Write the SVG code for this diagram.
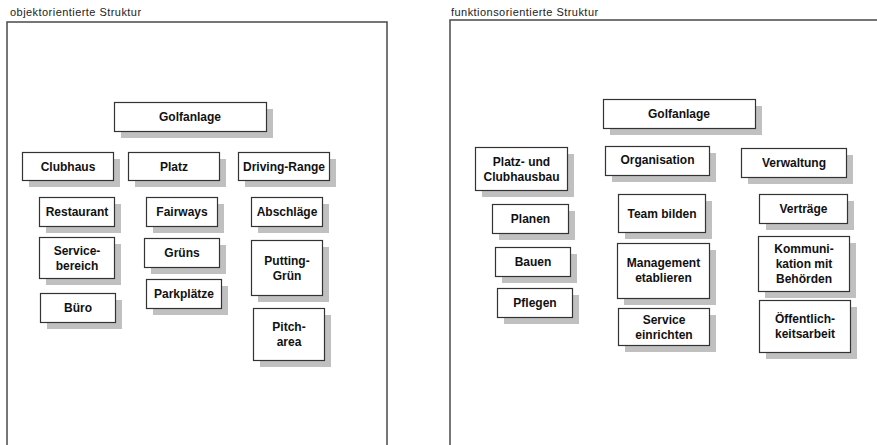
<svg xmlns="http://www.w3.org/2000/svg" width="877" height="445" viewBox="0 0 877 445">
  <style>
    .frame { fill: none; stroke: #4a4a4a; stroke-width: 1.5; }
    .title { font-family: "Liberation Sans", Arial, sans-serif; font-size: 11px; letter-spacing: 0.45px; fill: #222; }
    .sh { fill: #c0c0c0; }
    .bx { fill: #ffffff; stroke: #333333; stroke-width: 1.2; }
    .t { font-family: "Liberation Sans", Arial, sans-serif; font-size: 12px; font-weight: bold; fill: #111; text-anchor: middle; }
  </style>
  <rect width="877" height="445" fill="#ffffff"/>

  <!-- panel frames and headings -->
  <g id="panel-left">
    <text class="title" x="10" y="16">objektorientierte Struktur</text>
    <path class="frame" d="M7,446 V22 H387 V446"/>
  </g>
  <g id="panel-right">
    <text class="title" x="451" y="16">funktionsorientierte Struktur</text>
    <path class="frame" d="M450,446 V20 H878"/>
  </g>

  <!-- object-oriented structure -->
  <g id="o-golfanlage" transform="translate(114,102)">
    <rect class="sh" x="7" y="7" width="152" height="29"/>
    <rect class="bx" x="0.5" y="0.5" width="152" height="29"/>
    <text class="t" x="76" y="19">Golfanlage</text>
  </g>
  <g id="o-clubhaus" transform="translate(22,152)">
    <rect class="sh" x="7" y="7" width="91" height="28"/>
    <rect class="bx" x="0.5" y="0.5" width="91" height="28"/>
    <text class="t" x="46" y="18.5">Clubhaus</text>
  </g>
  <g id="o-platz" transform="translate(128,152)">
    <rect class="sh" x="7" y="7" width="91" height="28"/>
    <rect class="bx" x="0.5" y="0.5" width="91" height="28"/>
    <text class="t" x="46" y="18.5">Platz</text>
  </g>
  <g id="o-driving-range" transform="translate(238,152)">
    <rect class="sh" x="7" y="7" width="91" height="28"/>
    <rect class="bx" x="0.5" y="0.5" width="91" height="28"/>
    <text class="t" x="46" y="18.5">Driving-Range</text>
  </g>
  <g id="o-restaurant" transform="translate(39,197)">
    <rect class="sh" x="7" y="7" width="75" height="29"/>
    <rect class="bx" x="0.5" y="0.5" width="75" height="29"/>
    <text class="t" x="38" y="19">Restaurant</text>
  </g>
  <g id="o-servicebereich" transform="translate(39,237)">
    <rect class="sh" x="7" y="7" width="75" height="41"/>
    <rect class="bx" x="0.5" y="0.5" width="75" height="41"/>
    <text class="t" x="38" y="17.5">Service-</text>
    <text class="t" x="38" y="32.5">bereich</text>
  </g>
  <g id="o-buero" transform="translate(40,293)">
    <rect class="sh" x="7" y="7" width="75" height="29"/>
    <rect class="bx" x="0.5" y="0.5" width="75" height="29"/>
    <text class="t" x="38" y="19">Büro</text>
  </g>
  <g id="o-fairways" transform="translate(146,197)">
    <rect class="sh" x="7" y="7" width="71" height="29"/>
    <rect class="bx" x="0.5" y="0.5" width="71" height="29"/>
    <text class="t" x="36" y="19">Fairways</text>
  </g>
  <g id="o-gruens" transform="translate(144,238)">
    <rect class="sh" x="7" y="7" width="75" height="29"/>
    <rect class="bx" x="0.5" y="0.5" width="75" height="29"/>
    <text class="t" x="38" y="19">Grüns</text>
  </g>
  <g id="o-parkplaetze" transform="translate(146,279)">
    <rect class="sh" x="7" y="7" width="75" height="29"/>
    <rect class="bx" x="0.5" y="0.5" width="75" height="29"/>
    <text class="t" x="38" y="19">Parkplätze</text>
  </g>
  <g id="o-abschlaege" transform="translate(251,197)">
    <rect class="sh" x="7" y="7" width="71" height="29"/>
    <rect class="bx" x="0.5" y="0.5" width="71" height="29"/>
    <text class="t" x="36" y="19">Abschläge</text>
  </g>
  <g id="o-putting-gruen" transform="translate(251,240)">
    <rect class="sh" x="7" y="7" width="71" height="55"/>
    <rect class="bx" x="0.5" y="0.5" width="71" height="55"/>
    <text class="t" x="36" y="24.5">Putting-</text>
    <text class="t" x="36" y="39.5">Grün</text>
  </g>
  <g id="o-pitch-area" transform="translate(253,308)">
    <rect class="sh" x="7" y="7" width="71" height="52"/>
    <rect class="bx" x="0.5" y="0.5" width="71" height="52"/>
    <text class="t" x="36" y="23">Pitch-</text>
    <text class="t" x="36" y="38">area</text>
  </g>

  <!-- function-oriented structure -->
  <g id="f-golfanlage" transform="translate(603,99)">
    <rect class="sh" x="7" y="7" width="152" height="29"/>
    <rect class="bx" x="0.5" y="0.5" width="152" height="29"/>
    <text class="t" x="76" y="19">Golfanlage</text>
  </g>
  <g id="f-platz-clubhausbau" transform="translate(475,147)">
    <rect class="sh" x="7" y="7" width="92" height="43"/>
    <rect class="bx" x="0.5" y="0.5" width="92" height="43"/>
    <text class="t" x="46.5" y="18.5">Platz- und</text>
    <text class="t" x="46.5" y="33.5">Clubhausbau</text>
  </g>
  <g id="f-organisation" transform="translate(605,146)">
    <rect class="sh" x="7" y="7" width="104" height="29"/>
    <rect class="bx" x="0.5" y="0.5" width="104" height="29"/>
    <text class="t" x="52.5" y="18">Organisation</text>
  </g>
  <g id="f-verwaltung" transform="translate(741,148)">
    <rect class="sh" x="7" y="7" width="105" height="29"/>
    <rect class="bx" x="0.5" y="0.5" width="105" height="29"/>
    <text class="t" x="53" y="19">Verwaltung</text>
  </g>
  <g id="f-planen" transform="translate(492,204)">
    <rect class="sh" x="7" y="7" width="76" height="29"/>
    <rect class="bx" x="0.5" y="0.5" width="76" height="29"/>
    <text class="t" x="38.5" y="19">Planen</text>
  </g>
  <g id="f-bauen" transform="translate(495,247)">
    <rect class="sh" x="7" y="7" width="75" height="29"/>
    <rect class="bx" x="0.5" y="0.5" width="75" height="29"/>
    <text class="t" x="38" y="19">Bauen</text>
  </g>
  <g id="f-pflegen" transform="translate(497,288)">
    <rect class="sh" x="7" y="7" width="75" height="29"/>
    <rect class="bx" x="0.5" y="0.5" width="75" height="29"/>
    <text class="t" x="38" y="19">Pflegen</text>
  </g>
  <g id="f-team-bilden" transform="translate(618,194)">
    <rect class="sh" x="7" y="7" width="87" height="38"/>
    <rect class="bx" x="0.5" y="0.5" width="87" height="38"/>
    <text class="t" x="44" y="23.5">Team bilden</text>
  </g>
  <g id="f-management" transform="translate(617,243)">
    <rect class="sh" x="7" y="7" width="92" height="55"/>
    <rect class="bx" x="0.5" y="0.5" width="92" height="55"/>
    <text class="t" x="46.5" y="24">Management</text>
    <text class="t" x="46.5" y="39">etablieren</text>
  </g>
  <g id="f-service" transform="translate(618,308)">
    <rect class="sh" x="7" y="7" width="91" height="37"/>
    <rect class="bx" x="0.5" y="0.5" width="91" height="37"/>
    <text class="t" x="46" y="15.5">Service</text>
    <text class="t" x="46" y="30.5">einrichten</text>
  </g>
  <g id="f-vertraege" transform="translate(759,194)">
    <rect class="sh" x="7" y="7" width="88" height="29"/>
    <rect class="bx" x="0.5" y="0.5" width="88" height="29"/>
    <text class="t" x="44.5" y="19">Verträge</text>
  </g>
  <g id="f-kommunikation" transform="translate(758,236)">
    <rect class="sh" x="7" y="7" width="91" height="55"/>
    <rect class="bx" x="0.5" y="0.5" width="91" height="55"/>
    <text class="t" x="46" y="17">Kommuni-</text>
    <text class="t" x="46" y="32">kation mit</text>
    <text class="t" x="46" y="47">Behörden</text>
  </g>
  <g id="f-oeffentlichkeit" transform="translate(759,300)">
    <rect class="sh" x="7" y="7" width="91" height="52"/>
    <rect class="bx" x="0.5" y="0.5" width="91" height="52"/>
    <text class="t" x="46" y="22.5">Öffentlich-</text>
    <text class="t" x="46" y="37.5">keitsarbeit</text>
  </g>
</svg>
